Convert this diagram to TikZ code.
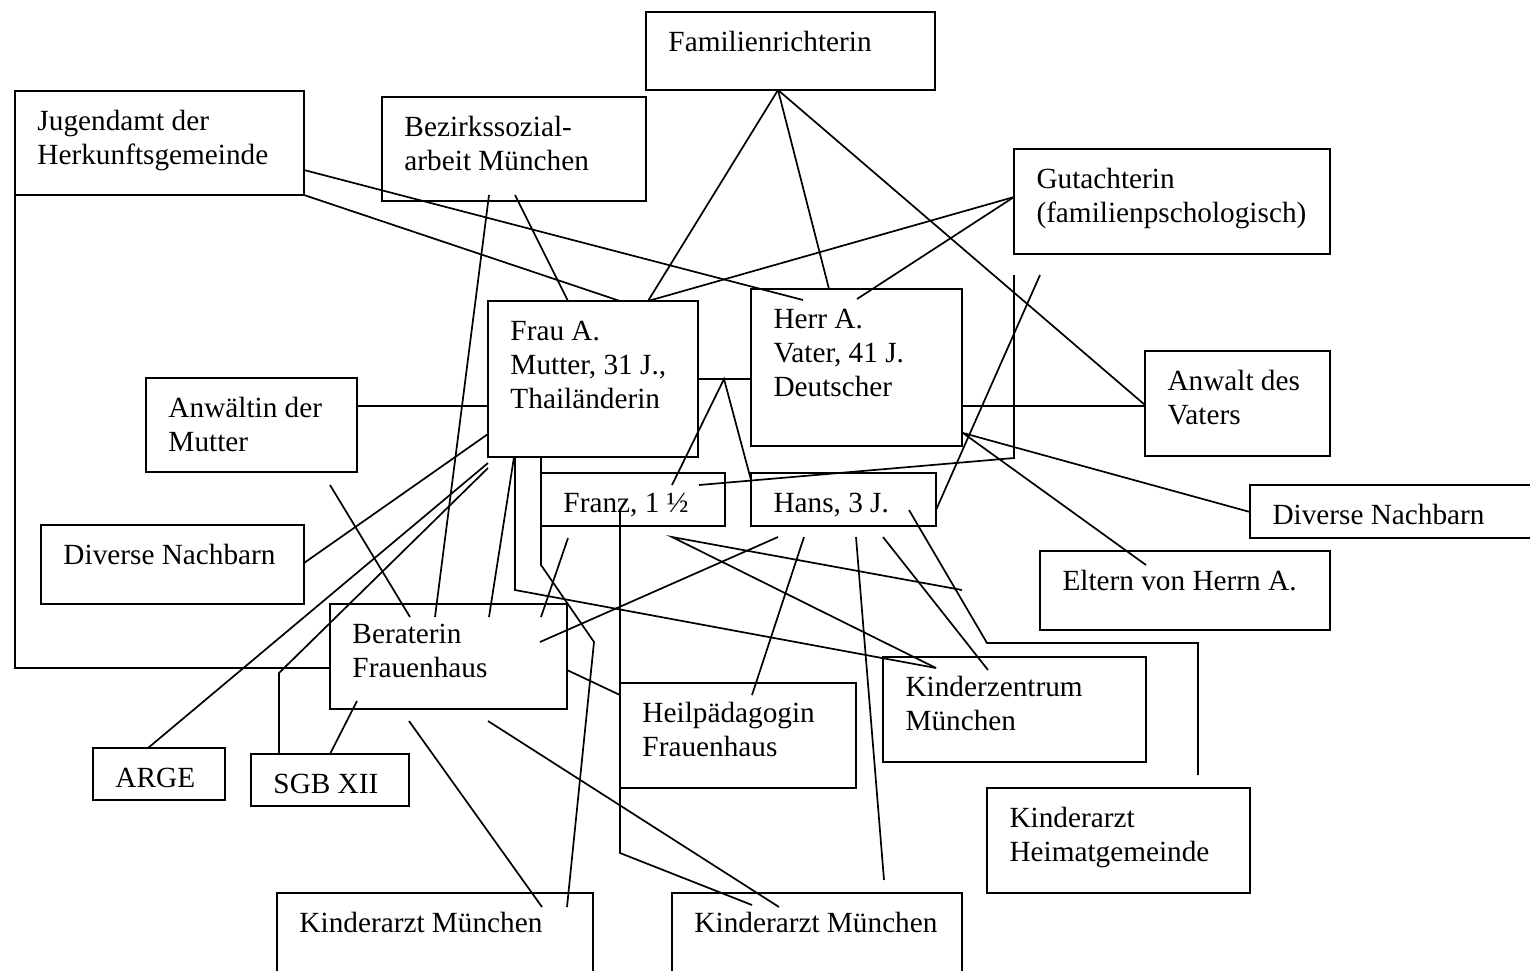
\documentclass[tikz,border=0pt]{standalone}
\usepackage{fontspec}
\setmainfont{Liberation Serif}
\usetikzlibrary{fit}
\newcommand\mkbox[6]{%
  \node[bx, fit={(#2,#3)(#4,#5)}] (#1) {};
  \node[tx] (#1-t) at ({#2+22},{#3+15}) {\strut #6};
}
\begin{document}
\begin{tikzpicture}[x=0.41pt,y=-0.41pt,
  bx/.style={draw, line width=0.9pt, inner sep=0pt, outer sep=0pt},
  tx/.style={anchor=north west, inner sep=0pt, align=left, font=\fontsize{12}{14}\selectfont},
  ln/.style={line width=0.7pt}]
\useasboundingbox (0,0) rectangle (1530,970);
\fill[white] (0,0) rectangle (1530,970);
\clip (0,0) rectangle (1530,970);

% boxes
\mkbox{fam}{646}{12}{935}{90}{Familienrichterin}
\mkbox{jug}{15}{91}{304}{195}{Jugendamt der\\Herkunftsgemeinde}
\mkbox{bez}{382}{97}{646}{201}{Bezirkssozial-\\arbeit München}
\mkbox{gut}{1014}{149}{1330}{254}{Gutachterin\\(familienpschologisch)}
\mkbox{fraua}{488}{301}{698}{457}{Frau A.\\Mutter, 31 J.,\\Thailänderin}
\mkbox{herra}{751}{289}{962}{446}{Herr A.\\Vater, 41 J.\\Deutscher}
\mkbox{anwm}{146}{378}{357}{472}{Anwältin der\\Mutter}
\mkbox{anwv}{1145}{351}{1330}{456}{Anwalt des\\Vaters}
\mkbox{nachl}{41}{525}{304}{604}{Diverse Nachbarn}
\mkbox{nachr}{1250}{485}{1545}{538}{Diverse Nachbarn}
\mkbox{franz}{541}{473}{725}{526}{Franz, 1 ½}
\mkbox{hans}{751}{473}{936}{526}{Hans, 3 J.}
\mkbox{eltern}{1040}{551}{1330}{630}{Eltern von Herrn A.}
\mkbox{berat}{330}{604}{567}{709}{Beraterin\\Frauenhaus}
\mkbox{heil}{620}{683}{856}{788}{Heilpädagogin\\Frauenhaus}
\mkbox{kiz}{883}{657}{1146}{762}{Kinderzentrum\\München}
\mkbox{arge}{93}{748}{225}{800}{ARGE}
\mkbox{sgb}{251}{754}{409}{806}{SGB XII}
\mkbox{kah}{987}{788}{1250}{893}{Kinderarzt\\Heimatgemeinde}
\mkbox{kaml}{277}{893}{593}{985}{Kinderarzt München}
\mkbox{kamr}{672}{893}{962}{985}{Kinderarzt München}

% free ends
\coordinate (jh) at (803,300);
\coordinate (bz1) at (515,195);
\coordinate (bz2) at (489,195);
\coordinate (bt1) at (435,617);
\coordinate (gh) at (857,299);
\coordinate (g1) at (1014,275);
\coordinate (g2) at (1040,275);
\coordinate (fz1) at (699,485);
\coordinate (am) at (330,485);
\coordinate (bt2) at (410,617);
\coordinate (fs1) at (488,463);
\coordinate (fs2) at (488,468);
\coordinate (bt3) at (489,617);
\coordinate (kz1) at (936,668);
\coordinate (kl1) at (567,907);
\coordinate (fz2) at (672,485);
\coordinate (hs1) at (751,480);
\coordinate (fz3) at (568,538);
\coordinate (bt4) at (541,617);
\coordinate (hs2) at (778,537);
\coordinate (bt5) at (540,642);
\coordinate (fz4) at (672,537);
\coordinate (fe) at (962,590);
\coordinate (hs3) at (804,537);
\coordinate (hp1) at (752,695);
\coordinate (hs4) at (856,537);
\coordinate (kr1) at (884,880);
\coordinate (hs5) at (883,537);
\coordinate (kz2) at (988,670);
\coordinate (hs6) at (909,510);
\coordinate (ha1) at (963,433);
\coordinate (el1) at (1146,565);
\coordinate (bb1) at (357,701);
\coordinate (bb2) at (409,721);
\coordinate (kl2) at (542,907);
\coordinate (bb3) at (488,721);
\coordinate (kr2) at (779,907);
\coordinate (fz5) at (620,512);
\coordinate (kr3) at (752,905);
\coordinate (pa) at (724,379);

% connectors
\draw[ln] (778,0 |- fam.south) -- (648,0 |- fraua.north);
\draw[ln] (778,0 |- fam.south) -- (829,0 |- herra.north);
\draw[ln] (778,0 |- fam.south) -- (anwv.west |- 0,405);
\draw[ln] (jug.east |- 0,170) -- (jh);
\draw[ln] (jug.south east) -- (620,0 |- fraua.north);
\draw[ln] (jug.south west) |- (berat.west |- 0,668);
\draw[ln] (bz1) -- (568,0 |- fraua.north);
\draw[ln] (bz2) -- (bt1);
\draw[ln] (gut.west |- 0,197) -- (648,0 |- fraua.north);
\draw[ln] (gut.west |- 0,197) -- (gh);
\draw[ln] (g1) -- (1014,458) -- (fz1);
\draw[ln] (g2) -- (hans.east |- 0,510);
\draw[ln] (anwm.east |- 0,406) -- (fraua.west |- 0,406);
\draw[ln] (am) -- (bt2);
\draw[ln] (nachl.east |- 0,563) -- (fraua.west |- 0,434);
\draw[ln] (fs1) -- (148,0 |- arge.north);
\draw[ln] (fs2) -- (279,673) -- (279,0 |- sgb.north);
\draw[ln] (514,0 |- fraua.south) -- (bt3);
\draw[ln] (515,0 |- fraua.south) -- (515,590) -- (kz1);
\draw[ln] (541,0 |- fraua.south) -- (541,565) -- (594,642) -- (kl1);
\draw[ln] (fraua.east |- 0,379) -- (herra.west |- 0,379);
\draw[ln] (fz2) -- (pa) -- (hs1);
\draw[ln] (fz3) -- (bt4);
\draw[ln] (hs2) -- (bt5);
\draw[ln] (fe) -- (fz4) -- (kz1);
\draw[ln] (hs3) -- (hp1);
\draw[ln] (hs4) -- (kr1);
\draw[ln] (hs5) -- (kz2);
\draw[ln] (hs6) -- (987,643) -- (1198,643) -- (1198,775);
\draw[ln] (herra.east |- 0,406) -- (anwv.west |- 0,406);
\draw[ln] (ha1) -- (nachr.west |- 0,512);
\draw[ln] (ha1) -- (el1);
\draw[ln] (berat.east |- 0,670) -- (heil.west |- 0,695);
\draw[ln] (bb1) -- (330,0 |- sgb.north);
\draw[ln] (bb2) -- (kl2);
\draw[ln] (bb3) -- (kr2);
\draw[ln] (fz5) -- (620,853) -- (kr3);
\end{tikzpicture}
\end{document}
